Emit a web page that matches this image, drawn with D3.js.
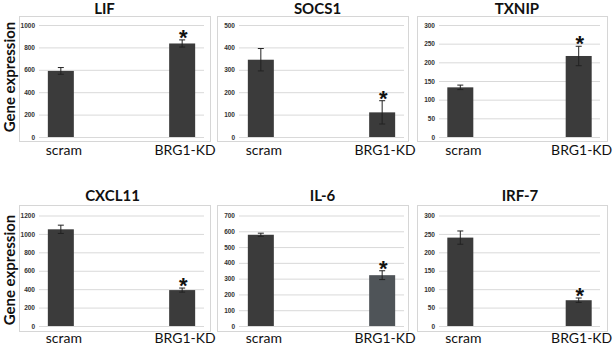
<!DOCTYPE html>
<html>
<head>
<meta charset="utf-8">
<script src="https://cdn.jsdelivr.net/npm/d3@7"></script>
<style>
  body { margin: 0; background: #fff; }
  svg { display: block; }
</style>
</head>
<body>
<svg id="chart" width="613" height="345"></svg>
<script>
// data
const genes = ["LIF", "SOCS1", "TXNIP", "CXCL11", "IL-6", "IRF-7"]
const groups = ["scram", "BRG1-KD"]
const means = [[590, 835], [345, 110], [133, 217], [1050, 390], [578, 322], [240, 70]]
const errors = [[30, 32], [50, 52], [6, 26], [45, 22], [10, 28], [18, 6]]
const yMax = [1000, 500, 300, 1200, 700, 300]
const yStep = [200, 100, 50, 200, 100, 50]
const significant = [[false, true], [false, true], [false, true], [false, true], [false, true], [false, true]]

const svg = d3.select("#chart")

// panel boxes: frame, plot area
const cols = [
    {fx0: 19, fx1: 210, gx0: 39, gx1: 204},
    {fx0: 217, fx1: 408, gx0: 239, gx1: 404},
    {fx0: 417, fx1: 607, gx0: 439, gx1: 600}
]
const rows = [
    {fy0: 16, fy1: 141, top: 25, bottom: 137, titleY: 14, labelY: 155, axisY: 77},
    {fy0: 205, fy1: 331, top: 215.5, bottom: 326, titleY: 201, labelY: 343, axisY: 270}
]
const titleDx = [-10, 5, 5, -2, 10, 8]
const barWidth = 26
const barColors = ["#3b3b3b", "#3b3b3b"]

rows.forEach(r => {
    svg.append("text")
        .attr("transform", `translate(15, ${r.axisY}) rotate(-90)`)
        .attr("text-anchor", "middle")
        .style("font-family", "Lato, 'Open Sans', sans-serif")
        .style("font-weight", "bold")
        .style("font-size", "15px")
        .attr("fill", "#111")
        .text("Gene expression")
})

genes.forEach((gene, i) => {
    const c = cols[i % 3]
    const r = rows[Math.floor(i / 3)]
    const g = svg.append("g")

    g.append("rect")
        .attr("x", c.fx0 + 0.5).attr("y", r.fy0 + 0.5)
        .attr("width", c.fx1 - c.fx0).attr("height", r.fy1 - r.fy0)
        .attr("fill", "none").attr("stroke", "#d6d6d6")

    const y = d3.scaleLinear().domain([0, yMax[i]]).range([r.bottom, r.top])
    const x = d3.scalePoint().domain(groups).range([c.gx0, c.gx1]).padding(0.18)

    const axis = d3.axisLeft(y)
        .tickValues(d3.range(0, yMax[i] + 1, yStep[i]))
        .tickFormat(d3.format("d"))
        .tickSize(-(c.gx1 - c.gx0))
        .tickPadding(4)

    const ag = g.append("g").attr("transform", `translate(${c.gx0},0)`).call(axis)
    ag.select(".domain").remove()
    ag.selectAll(".tick line").attr("stroke", "#d9d9d9")
    ag.selectAll(".tick text")
        .attr("fill", "#333")
        .style("font-family", "'Liberation Sans', Arial, sans-serif")
        .style("font-weight", "bold")
        .style("font-size", "6.5px")

    groups.forEach((grp, j) => {
        const cx = x(grp)
        const v = means[i][j]
        const e = errors[i][j]
        const col = (gene === "IL-6" && j === 1) ? "#4f5458" : barColors[j]
        g.append("rect")
            .attr("x", cx - barWidth / 2).attr("y", y(v))
            .attr("width", barWidth).attr("height", y(0) - y(v))
            .attr("fill", col)
        // error bar
        g.append("line")
            .attr("x1", cx).attr("x2", cx)
            .attr("y1", y(v - e)).attr("y2", y(v + e))
            .attr("stroke", "#222").attr("stroke-width", 1)
        ;[v - e, v + e].forEach(ev => {
            g.append("line")
                .attr("x1", cx - 3).attr("x2", cx + 3)
                .attr("y1", y(ev)).attr("y2", y(ev))
                .attr("stroke", "#222").attr("stroke-width", 1)
        })
        if (significant[i][j]) {
            g.append("text")
                .attr("x", cx + 1).attr("y", y(v + e) + 5)
                .attr("text-anchor", "middle")
                .style("font-family", "'Liberation Sans', Arial, sans-serif")
                .style("font-weight", "bold")
                .style("font-size", "22px")
                .attr("fill", "#111")
                .text("*")
        }
        g.append("text")
            .attr("x", cx + 3).attr("y", r.labelY)
            .attr("text-anchor", "middle")
            .style("font-family", "Lato, 'Open Sans', sans-serif")
            .style("font-size", "14px")
            .attr("fill", "#111")
            .text(grp)
    })

    g.append("text")
        .attr("x", (c.fx0 + c.fx1) / 2 + titleDx[i]).attr("y", r.titleY)
        .attr("text-anchor", "middle")
        .style("font-family", "Lato, 'Open Sans', sans-serif")
        .style("font-weight", "bold")
        .style("font-size", "15px")
        .attr("fill", "#111")
        .text(gene)
})
</script>
</body>
</html>
